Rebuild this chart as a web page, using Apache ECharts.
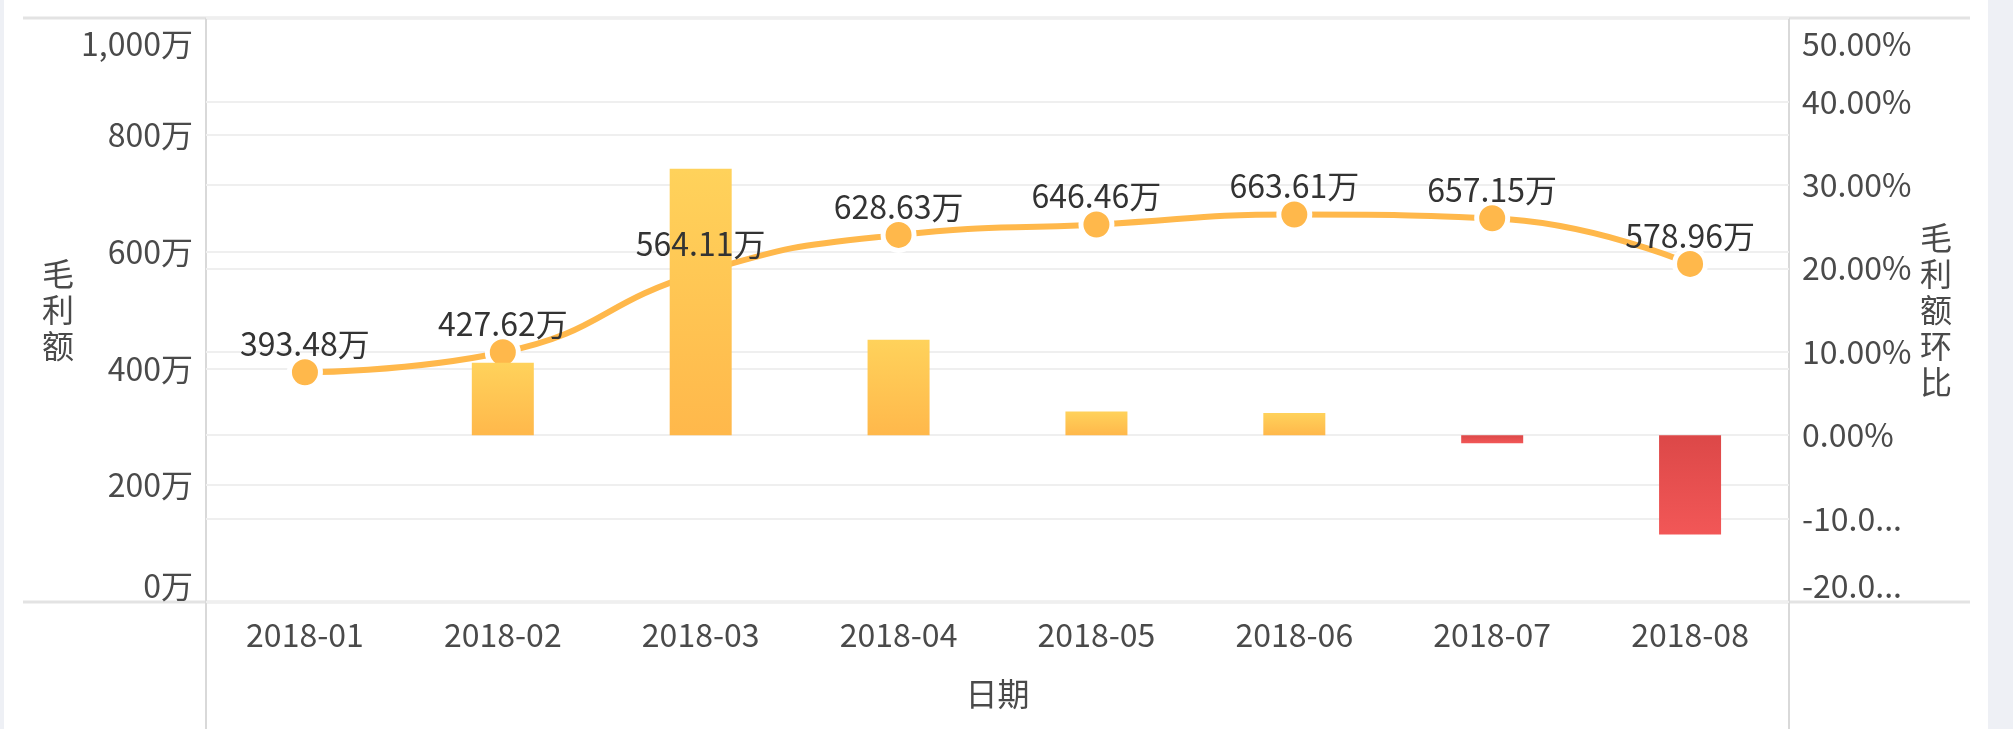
<!DOCTYPE html>
<html>
<head>
<meta charset="utf-8">
<script src="https://cdn.jsdelivr.net/npm/echarts@6/dist/echarts.min.js"></script>
<style>
html,body{margin:0;padding:0;background:#eef0f5;}
#bg{position:absolute;left:4px;top:0;width:1984px;height:729px;background:#ffffff;}
#chart{position:absolute;left:0;top:0;width:2013px;height:729px;}
</style>
</head>
<body>
<div id="bg"></div>
<div id="chart"></div>
<script>
// ---- data ----
const categories = ['2018-01','2018-02','2018-03','2018-04','2018-05','2018-06','2018-07','2018-08'];
const grossProfit = [393.48, 427.62, 564.11, 628.63, 646.46, 663.61, 657.15, 578.96]; // 万
const momRatio = [null, 8.68, 31.92, 11.44, 2.84, 2.65, -0.97, -11.90]; // %
const leftTicks = {min: 0, max: 1000, interval: 200};
const rightTicks = {min: -20, max: 50, interval: 10};

const FONT = '"Noto Sans CJK SC", "Noto Sans", sans-serif';
const AXIS_COLOR = '#4a4a4a';
const chart = echarts.init(document.getElementById('chart'), null, {renderer: 'canvas'});

const posGrad = new echarts.graphic.LinearGradient(0, 0, 0, 1, [
  {offset: 0, color: '#FFD25B'}, {offset: 1, color: '#FFB84B'}
]);
const negGrad = new echarts.graphic.LinearGradient(0, 0, 0, 1, [
  {offset: 0, color: '#DC4848'}, {offset: 1, color: '#F25757'}
]);

const barData = momRatio.map(v => ({
  value: v,
  itemStyle: {color: v != null && v < 0 ? negGrad : posGrad}
}));

const GL = 206, GR = 1789, GT = 18, GB = 602;

function richLabel(txt, isMax) {
  return isMax ? '{mx|' + txt + '}' : txt;
}
const richStyles = {mx: {fontSize: 32, color: AXIS_COLOR, fontFamily: FONT, padding: [10, 0, 0, 0]}};

chart.setOption({
  backgroundColor: 'transparent',
  animation: false,
  textStyle: {fontFamily: FONT},
  grid: {left: GL, right: 2013 - GR, top: GT, bottom: 729 - GB, containLabel: false},
  xAxis: {
    type: 'category',
    data: categories,
    boundaryGap: true,
    name: '日期',
    nameLocation: 'middle',
    nameGap: 76,
    nameTextStyle: {fontSize: 32, color: AXIS_COLOR, fontFamily: FONT},
    axisLine: {show: false},
    axisTick: {show: false},
    axisLabel: {fontSize: 32, color: AXIS_COLOR, margin: 17, fontFamily: FONT}
  },
  yAxis: [
    {
      type: 'value',
      position: 'left',
      min: leftTicks.min, max: leftTicks.max, interval: leftTicks.interval,
      name: '毛\n利\n额',
      nameLocation: 'middle',
      nameRotate: 0,
      nameGap: 132,
      nameTextStyle: {fontSize: 32, color: AXIS_COLOR, lineHeight: 36, fontFamily: FONT, padding: [10, 0, 0, 0]},
      axisLine: {show: false},
      axisTick: {show: false},
      splitLine: {show: true, lineStyle: {color: '#efefef', width: 2}},
      axisLabel: {
        fontSize: 32, color: AXIS_COLOR, margin: 13, fontFamily: FONT,
        verticalAlignMinLabel: 'bottom', verticalAlignMaxLabel: 'top',
        rich: richStyles,
        formatter: v => richLabel(v.toLocaleString('en-US') + '万', v === leftTicks.max)
      }
    },
    {
      type: 'value',
      position: 'right',
      min: rightTicks.min, max: rightTicks.max, interval: rightTicks.interval,
      name: '毛\n利\n额\n环\n比',
      nameLocation: 'middle',
      nameRotate: 0,
      nameGap: 131,
      nameTextStyle: {fontSize: 32, color: AXIS_COLOR, lineHeight: 36, fontFamily: FONT, padding: [12, 0, 0, 0]},
      axisLine: {show: false},
      axisTick: {show: false},
      splitLine: {show: true, lineStyle: {color: '#efefef', width: 2}},
      axisLabel: {
        fontSize: 32, color: AXIS_COLOR, margin: 13, fontFamily: FONT,
        width: 112, overflow: 'truncate', ellipsis: '...',
        verticalAlignMinLabel: 'bottom', verticalAlignMaxLabel: 'top',
        rich: richStyles,
        formatter: v => richLabel(v.toFixed(2) + '%', v === rightTicks.max)
      }
    }
  ],
  series: [
    {
      name: '毛利额',
      type: 'line',
      yAxisIndex: 0,
      smooth: true,
      data: grossProfit,
      symbol: 'circle',
      symbolSize: 31,
      lineStyle: {color: '#FFB84B', width: 6},
      itemStyle: {color: '#FFB84B', borderColor: '#ffffff', borderWidth: 5},
      label: {show: false},
      z: 1
    },
    {
      name: '毛利额环比',
      type: 'bar',
      yAxisIndex: 1,
      barWidth: 62,
      data: barData,
      z: 2
    },
    {
      name: '毛利额标签',
      type: 'scatter',
      yAxisIndex: 0,
      data: grossProfit,
      symbol: 'circle',
      symbolSize: 31,
      itemStyle: {color: 'rgba(0,0,0,0)'},
      silent: true,
      label: {
        show: true,
        position: 'top',
        distance: -3,
        fontSize: 32,
        color: '#333333',
        opacity: 1,
        textBorderWidth: 0,
        fontFamily: FONT,
        formatter: p => p.value.toFixed(2) + '万'
      },
      z: 4
    }
  ],
  graphic: [
    {type: 'line', shape: {x1: 23, y1: GT, x2: 1970, y2: GT}, style: {stroke: '#e3e3e3', lineWidth: 3}, z: 0, silent: true},
    {type: 'line', shape: {x1: 23, y1: GB, x2: 1970, y2: GB}, style: {stroke: '#e3e3e3', lineWidth: 3}, z: 0, silent: true},
    {type: 'line', shape: {x1: GL, y1: GT, x2: GL, y2: 729}, style: {stroke: '#d9d9d9', lineWidth: 2}, z: 0, silent: true},
    {type: 'line', shape: {x1: GR, y1: GT, x2: GR, y2: 729}, style: {stroke: '#d9d9d9', lineWidth: 2}, z: 0, silent: true}
  ]
});
</script>
</body>
</html>
